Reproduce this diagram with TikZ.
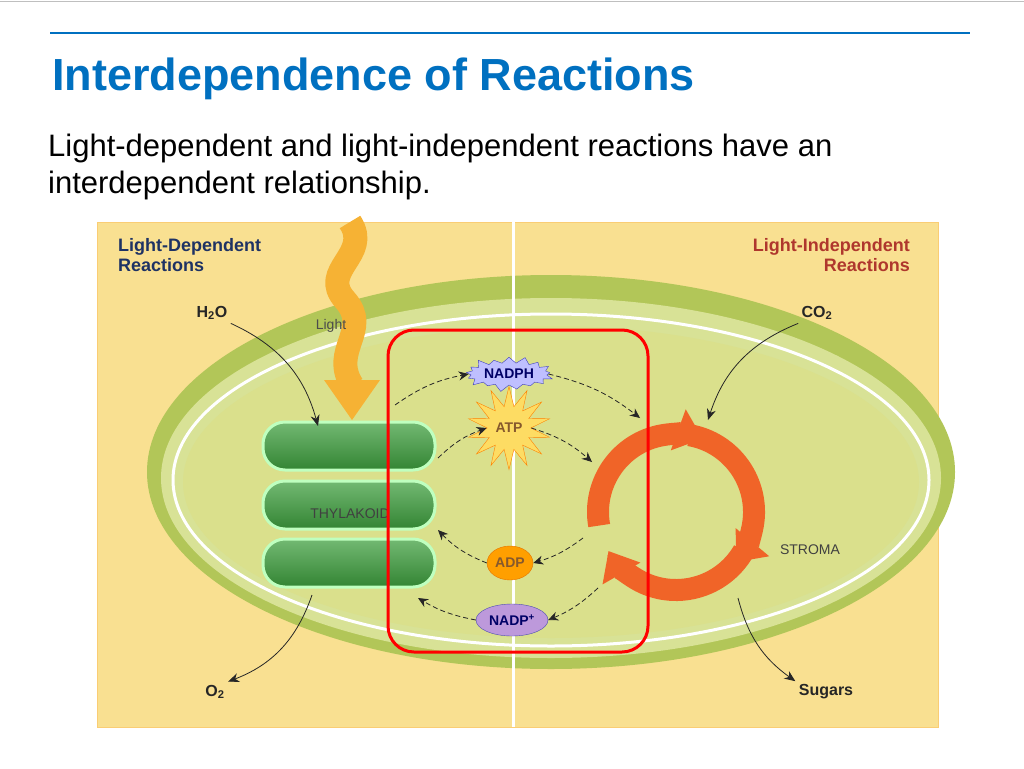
\documentclass[tikz,border=0pt]{standalone}
\usepackage{fontspec}
\setmainfont{Liberation Sans}
\usetikzlibrary{shapes.geometric,shapes.symbols,arrows.meta}
\definecolor{tblue}{RGB}{0,112,192}
\definecolor{panel}{RGB}{249,224,145}
\definecolor{dgreen}{RGB}{178,198,88}
\definecolor{lgreen}{RGB}{216,226,150}
\definecolor{stroma}{RGB}{218,224,140}
\definecolor{navy}{RGB}{30,50,100}
\definecolor{dred}{RGB}{175,55,45}
\definecolor{lorange}{RGB}{246,178,52}
\definecolor{cyc}{RGB}{240,100,40}
\begin{document}
\begin{tikzpicture}[x=1pt,y=-1pt,
  lbl/.style={font=\fontsize{16}{17}\selectfont\bfseries, text=black!85},
  ptitle/.style={font=\fontsize{18}{20}\selectfont\bfseries, align=left},
  dsh/.style={-{Stealth[length=10pt,width=9pt]}, thick, dash pattern=on 5pt off 3pt, black!85},
  sld/.style={-{Stealth[length=11pt,width=9pt]}, thick, black!85},
  disk/.style={draw=green!25!white, line width=3pt, top color=green!50!black!55, bottom color=green!40!black!80, rounded corners=22pt, minimum width=172pt, minimum height=48pt},
  ring/.style={cyc, line width=22pt, -{Triangle[length=26pt,width=42pt]}},
  chem/.style={font=\fontsize{14}{15}\selectfont\bfseries, inner sep=2pt}]
\useasboundingbox (0,0) rectangle (1024,768);
\fill[white] (0,0) rectangle (1024,768);
\draw[gray!50] (0,1) -- (1024,1);
\draw[tblue, line width=2.5pt] (50,33) -- (970,33);
\node[anchor=base west, text=tblue, font=\fontsize{45}{50}\selectfont\bfseries, inner sep=0pt] (title) at (52,90) {Interdependence of Reactions};
\node[anchor=base west, align=left, font=\fontsize{31}{37}\selectfont, text=black, inner sep=0pt] (body) at (48,193) {Light-dependent and light-independent reactions have an\\interdependent relationship.};
% panel
\filldraw[fill=panel, draw=panel!80!orange] (97,222) rectangle (938,727);
% chloroplast
\fill[dgreen] (551,472) ellipse [x radius=404, y radius=197];
\fill[lgreen] (551,478) ellipse [x radius=390, y radius=180];
\draw[white, line width=3pt] (551,480) ellipse [x radius=378, y radius=166];
\fill[stroma] (551,482) ellipse [x radius=368, y radius=156];
\draw[white, line width=3pt] (513,222) -- (513,727);
% labels
\node[ptitle, text=navy, anchor=north west, inner sep=0pt] (ld) at (118,238) {Light-Dependent\\Reactions};
\node[ptitle, text=dred, anchor=north east, align=right, inner sep=0pt] (li) at (910,238) {Light-Independent\\Reactions};
% thylakoid
\node[disk] (d1) at (349,446) {};
\node[disk] (d2) at (349,505) {};
\node[disk] (d3) at (349,563) {};
\node[text=black!75, font=\fontsize{14}{15}\selectfont] (thy) at (350,514) {THYLAKOID};
% light
\draw[lorange, line width=24pt] (350,222) .. controls (372,255) and (318,270) .. (345,300) .. controls (372,330) and (330,350) .. (352,385);
\fill[lorange] (324,380) -- (380,380) -- (352,420) -- cycle;
\node[text=black!70, font=\fontsize{14}{15}\selectfont] (light) at (331,326) {Light};
% chemicals
\node[lbl] (h2o) at (212,313) {H\textsubscript{2}O};
\node[lbl] (o2) at (215,692) {O\textsubscript{2}};
\node[lbl] (co2) at (817,313) {CO\textsubscript{2}};
\node[lbl] (sug) at (826,692) {Sugars};
\node[text=black!75, font=\fontsize{14}{15}\selectfont] (str) at (810,550) {STROMA};
\coordinate (h2oend) at (318,426);
\coordinate (o2start) at (312,595);
\coordinate (co2end) at (708,420);
\coordinate (sugstart) at (738,598);
\draw[sld] (h2o.south east) to[bend left=25] (h2oend);
\draw[sld] (o2start) to[bend left=25] (o2.north east);
\draw[sld] (co2.south west) to[bend right=25] (co2end);
\draw[sld] (sugstart) to[bend right=20] (sug.north west);
% cycle (y flipped: tikz angle = - visual angle)
\coordinate (cc) at (676,512);
\draw[ring] (cc) ++(-190:78) arc[start angle=-190, end angle=-70, radius=78];
\draw[ring] (cc) ++(-80:78) arc[start angle=-80, end angle=40, radius=78];
\draw[ring] (cc) ++(30:78) arc[start angle=30, end angle=150, radius=78];
% molecules
\node[starburst, starburst point height=8pt, fill=blue!25, draw=blue!50!gray, chem, text=blue!40!black, minimum width=92pt, minimum height=38pt] (nadph) at (509,374) {NADPH};
\node[star, star points=14, star point ratio=1.9, fill=yellow!60!orange!60, draw=orange, chem, text=brown!70!black, inner sep=2pt, minimum size=62pt] (atp) at (509,428) {ATP};
\node[ellipse, fill=orange!75!yellow, draw=orange!90!black, chem, text=brown!70!black, minimum width=46pt, minimum height=34pt, inner sep=0pt] (adp) at (510,563) {ADP};
\node[ellipse, fill=blue!30!violet!40, draw=blue!40!gray, chem, text=blue!40!black, minimum width=72pt, minimum height=32pt, inner sep=0pt] (nadp) at (512,620) {NADP\textsuperscript{+}};
% dashed arrows
\coordinate (a1) at (395,405); \coordinate (b1) at (640,418);
\coordinate (a2) at (438,458); \coordinate (b2) at (592,462);
\coordinate (a3) at (583,538); \coordinate (b3) at (438,530);
\coordinate (a4) at (598,588); \coordinate (b4) at (418,598);
\draw[dsh] (a1) to[bend left=12] (nadph.west);
\draw[dsh] (nadph.east) to[bend left=12] (b1);
\draw[dsh] (a2) to[bend left=12] (atp.west);
\draw[dsh] (atp.east) to[bend left=12] (b2);
\draw[dsh] (a3) to[bend left=10] (adp.east);
\draw[dsh] (adp.west) to[bend left=12] (b3);
\draw[dsh] (a4) to[bend left=10] (nadp.east);
\draw[dsh] (nadp.west) to[bend left=10] (b4);
% red box
\draw[red, line width=3pt, rounded corners=26pt] (388,330) rectangle (648,652);
\end{tikzpicture}
\end{document}
